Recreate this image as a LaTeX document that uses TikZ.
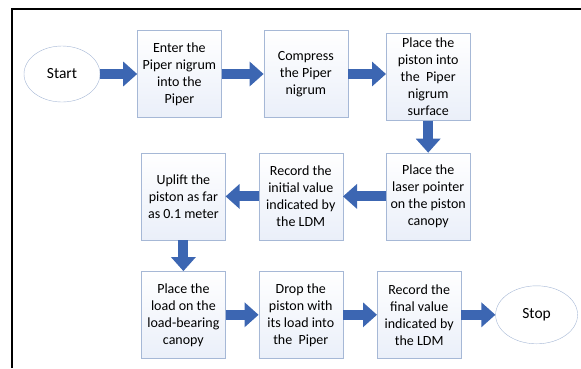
\documentclass[tikz,border=0pt]{standalone}
\usepackage{fontspec}
\setmainfont{Carlito}
\usepackage{xcolor}
\usepackage{tikz}
\usetikzlibrary{positioning}
\usetikzlibrary{arrows.meta}
\usetikzlibrary{shapes.geometric}

\definecolor{flowblue}{RGB}{60,102,178}
\definecolor{boxline}{RGB}{166,184,214}
\definecolor{boxtint}{RGB}{234,239,249}

\begin{document}
\begin{tikzpicture}[x=1pt, y=1pt,
  stepbox/.style={draw=boxline, top color=white, bottom color=boxtint,
    minimum width=84pt, minimum height=87pt, align=center, inner sep=1pt,
    font=\fontsize{14}{17}\selectfont},
  terminal/.style={draw=boxline, ellipse, fill=white, inner sep=0pt,
    font=\fontsize{15.5}{17}\selectfont},
  flow/.style={draw=flowblue, line width=10pt, -{Triangle[width=24pt,length=14pt]}}]
\useasboundingbox (0,0) rectangle (581,-368);
% frame
\draw [line width=2pt] (12,-368) -- (12,-9) -- (581,-9);

% row 1
\node (start) [terminal, minimum width=76pt, minimum height=56pt] at (62,-74) {Start};
\node (enter) [stepbox, right=37pt of start] {Enter the\\Piper nigrum\\into the\\Piper};
\node (compress) [stepbox, right=42pt of enter] {Compress\\the Piper\\nigrum};
\node (piston) [stepbox, right=38pt of compress, yshift=-3pt] {Place the\\piston into\\the\ \ Piper\\nigrum\\surface};

\draw [flow] (start) -- (enter);
\draw [flow] (enter) -- (compress);
\draw [flow] (compress.east) -- (compress.east -| piston.west);

% row 2
\node (laser) [stepbox, below=32pt of piston] {Place the\\laser pointer\\on the piston\\canopy};
\node (initial) [stepbox, left=43pt of laser] {Record the\\initial value\\indicated by\\the LDM};
\node (uplift) [stepbox, left=33pt of initial] {Uplift the\\piston as far\\as 0.1 meter};

\draw [flow] (piston) -- (laser);
\draw [flow] (laser) -- (initial);
\draw [flow] (initial) -- (uplift);

% row 3
\node (load) [stepbox, below=31pt of uplift] {Place the\\load on the\\load-bearing\\canopy};
\node (drop) [stepbox, right=33pt of load] {Drop the\\piston with\\its load into\\the\ \ Piper};
\node (final) [stepbox, right=34pt of drop] {Record the\\final value\\indicated by\\the LDM};
\node (stop) [terminal, minimum width=82pt, minimum height=58pt, right=34pt of final] {Stop};

\draw [flow] (uplift) -- (load);
\draw [flow] (load) -- (drop);
\draw [flow] (drop) -- (final);
\draw [flow] (final) -- (stop);
\end{tikzpicture}
\end{document}
